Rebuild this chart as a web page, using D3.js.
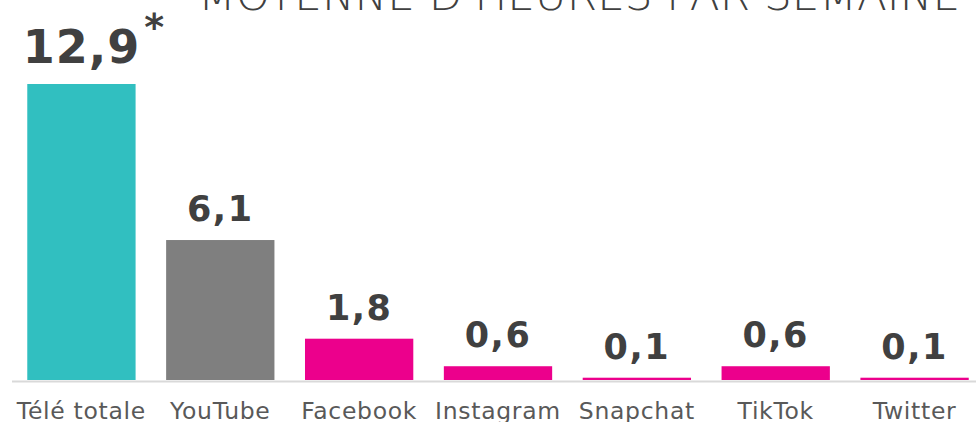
<!DOCTYPE html>
<html>
<head>
<meta charset="utf-8">
<script src="https://cdn.jsdelivr.net/npm/d3@7"></script>
<style>
  body { margin: 0; background: #fff; }
  svg { display: block; }
</style>
</head>
<body>
<div id="chart-area"></div>
<script>
var categories = ["Télé totale", "YouTube", "Facebook", "Instagram", "Snapchat", "TikTok", "Twitter"];
var values = [12.9, 6.1, 1.8, 0.6, 0.1, 0.6, 0.1];
var barColors = ["#31bfc0", "#7f7f7f", "#ec008c", "#ec008c", "#ec008c", "#ec008c", "#ec008c"];
var title = "MOYENNE D'HEURES PAR SEMAINE";

var width = 976, height = 422;
var baseline = 380;

var svg = d3.select("#chart-area")
    .append("svg")
    .attr("width", width)
    .attr("height", height);

var x = d3.scaleBand()
    .domain(categories)
    .range([12, 984])
    .paddingInner(0.22)
    .paddingOuter(0.11);

var y = d3.scaleLinear()
    .domain([0, 12.9])
    .range([baseline, 84]);

var fmt = d => d3.format(".1f")(d).replace(".", ",");

// title (cut off at the top like the original)
svg.append("text")
    .attr("x", 198)
    .attr("y", 10)
    .attr("textLength", 762)
    .attr("lengthAdjust", "spacingAndGlyphs")
    .style("font-family", "'DejaVu Sans', sans-serif")
    .style("font-weight", 200)
    .style("font-size", "43px")
    .style("fill", "#404040")
    .text(title);

// axis line
svg.append("line")
    .attr("x1", 12)
    .attr("x2", 984)
    .attr("y1", baseline + 1.5)
    .attr("y2", baseline + 1.5)
    .attr("stroke", "#d9d9d9")
    .attr("stroke-width", 2);

svg.selectAll(".bar")
    .data(values)
    .enter()
    .append("rect")
    .attr("class", "bar")
    .attr("x", (d, i) => x(categories[i]))
    .attr("y", d => y(d))
    .attr("width", x.bandwidth())
    .attr("height", d => baseline - y(d))
    .attr("fill", (d, i) => barColors[i]);

var labelY = (d, i) => y(d) - (i === 0 ? 21 : 19);

var labels = svg.selectAll(".value-label")
    .data(values)
    .enter()
    .append("text")
    .attr("class", "value-label")
    .attr("x", (d, i) => x(categories[i]) + x.bandwidth() / 2)
    .attr("y", labelY)
    .attr("text-anchor", "middle")
    .style("font-family", "'DejaVu Sans', Verdana, sans-serif")
    .style("font-weight", "bold")
    .style("font-size", (d, i) => i === 0 ? "46px" : "35px")
    .style("letter-spacing", (d, i) => i === 0 ? "1px" : "1.5px")
    .style("fill", "#404040")
    .text(fmt);

// asterisk next to the first value
var first = labels.filter((d, i) => i === 0).node().getBBox();
svg.append("text")
    .attr("x", first.x + first.width + 14)
    .attr("y", labelY(values[0], 0) - 23)
    .attr("text-anchor", "middle")
    .style("font-family", "'DejaVu Sans', Verdana, sans-serif")
    .style("font-weight", "bold")
    .style("font-size", "38px")
    .style("fill", "#404040")
    .text("*");

svg.selectAll(".cat-label")
    .data(categories)
    .enter()
    .append("text")
    .attr("class", "cat-label")
    .attr("x", d => x(d) + x.bandwidth() / 2)
    .attr("y", baseline + 39)
    .attr("text-anchor", "middle")
    .style("font-family", "'DejaVu Sans', Verdana, sans-serif")
    .style("font-size", "23.5px")
    .style("letter-spacing", "0.7px")
    .style("fill", "#595959")
    .text(d => d);
</script>
</body>
</html>
